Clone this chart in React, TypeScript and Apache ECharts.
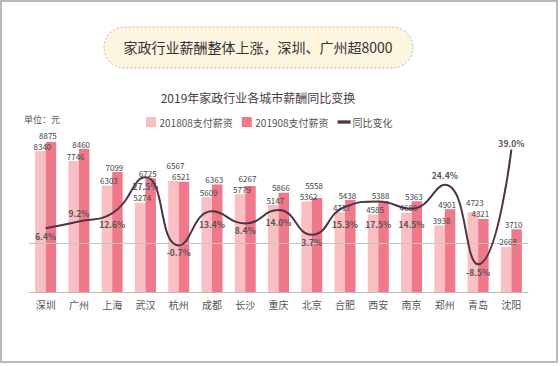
import React, { useEffect, useRef } from "react";
import * as echarts from "echarts";

const cities = ["深圳", "广州", "上海", "武汉", "杭州", "成都", "长沙", "重庆", "北京", "合肥", "西安", "南京", "郑州", "青岛", "沈阳"];
const pay2018 = [8340, 7746, 6303, 5274, 6567, 5609, 5779, 5147, 5362, 4717, 4585, 4686, 3938, 4723, 2668];
const pay2019 = [8875, 8460, 7099, 6725, 6521, 6363, 6267, 5866, 5558, 5438, 5388, 5363, 4901, 4321, 3710];
const yoy = [6.4, 9.2, 12.6, 27.5, -0.7, 13.4, 8.4, 14.0, 3.7, 15.3, 17.5, 14.5, 24.4, -8.5, 39.0];
const seriesNames = ["201808支付薪资", "201908支付薪资", "同比变化"];
const mainTitle = "家政行业薪酬整体上涨，深圳、广州超8000";
const subTitle = "2019年家政行业各城市薪酬同比变换";
const unitText = "单位：元";

// label styling (not data): which percent labels sit above the line, and their distance
const PCT_ABOVE = [1, 12, 14];
const PCT_DIST = [3, 4, 6, 4, 2, 8, 2, 8, 3, 13, 18, 11, 6, 3, 2];

const FONT = "'Noto Sans CJK SC', 'Noto Sans', sans-serif";
const LIGHT = "#f9bfc3";
const DARK = "#f0788b";
const LINE = "#4d3344";
const PX_PER_UNIT = 169 / 10000;

export default function App() {
  const ref = useRef<HTMLDivElement>(null);
  useEffect(() => {
    document.body.style.margin = "0";
    const chart = echarts.init(ref.current!, null, { renderer: "svg" });
    const extra = (mine: number, other: number) => {
      const gap = Math.abs(mine - other) * PX_PER_UNIT;
      return mine > other && gap < 11 ? 1 + (11 - gap) : 1;
    };
    const lightData = pay2018.map((v, i) => ({
      value: v,
      label: { distance: extra(v, pay2019[i]) },
    }));
    const darkData = pay2019.map((v, i) => ({
      value: v,
      label: { distance: extra(v, pay2018[i]) },
    }));
    const lineData = yoy.map((v, i) => ({
      value: v,
      label: { position: PCT_ABOVE.includes(i) ? "top" : "bottom", distance: PCT_DIST[i] },
    }));
    chart.setOption({
      animation: false,
      textStyle: { fontFamily: FONT },
      graphic: [
        {
          type: "rect",
          shape: { x: 1, y: 1, width: 556, height: 361 },
          style: { fill: "none", stroke: "#b8b8b8", lineWidth: 2 },
        },
        {
          type: "rect",
          shape: { x: 104, y: 27, width: 309, height: 41, r: 20.5 },
          style: { fill: "#fcf5df", stroke: "#bdb6a8", lineWidth: 1, lineDash: [2, 2] },
        },
        {
          type: "text",
          x: 258,
          y: 47,
          style: {
            text: mainTitle,
            fill: "#333",
            font: `14px ${FONT}`,
            textAlign: "center",
            textVerticalAlign: "middle",
          },
        },
        {
          type: "text",
          x: 258,
          y: 97,
          style: {
            text: subTitle,
            fill: "#4a3a46",
            font: `12px ${FONT}`,
            textAlign: "center",
            textVerticalAlign: "middle",
          },
        },
        {
          type: "text",
          x: 24,
          y: 119,
          style: {
            text: unitText,
            fill: "#555",
            font: `9px ${FONT}`,
            textAlign: "left",
            textVerticalAlign: "middle",
          },
        },
      ],
      legend: {
        top: 112,
        left: 141,
        itemWidth: 13,
        itemHeight: 10,
        itemGap: 9,
        textStyle: { fontSize: 10, color: "#555", fontFamily: FONT, padding: [0, 0, 0, -3] },
        data: [
          { name: seriesNames[0], icon: "path://M0,0h10v10h-10z" },
          { name: seriesNames[1], icon: "path://M0,0h10v10h-10z" },
          { name: seriesNames[2], icon: "path://M0,0h16v4h-16z" },
        ],
      },
      grid: { left: 29, right: 32, top: 123, bottom: 74 },
      xAxis: {
        type: "category",
        data: cities,
        axisLine: { lineStyle: { color: "#bbb", width: 1 } },
        axisTick: { show: false },
        axisLabel: { color: "#555", fontSize: 10, margin: 7, fontFamily: FONT },
      },
      yAxis: [
        { type: "value", min: 0, max: 10000, show: false, splitLine: { show: false } },
        { type: "value", min: -20, max: 50, show: false, splitLine: { show: false } },
      ],
      series: [
        {
          name: seriesNames[0],
          type: "bar",
          data: lightData,
          barWidth: 10.5,
          barGap: "0%",
          itemStyle: { color: LIGHT },
          label: {
            show: true,
            position: "top",
            offset: [2, 0],
            fontSize: 8,
            color: "#444",
            fontFamily: FONT,
          },
        },
        {
          name: seriesNames[1],
          type: "bar",
          data: darkData,
          barWidth: 10.5,
          itemStyle: { color: DARK },
          label: {
            show: true,
            position: "top",
            offset: [-3, 0],
            fontSize: 8,
            color: "#444",
            fontFamily: FONT,
          },
        },
        {
          name: seriesNames[2],
          type: "line",
          yAxisIndex: 1,
          data: lineData,
          smooth: 0.5,
          symbol: "circle",
          symbolSize: 0,
          showSymbol: true,
          z: 5,
          lineStyle: { color: LINE, width: 2 },
          itemStyle: { color: LINE },
          label: {
            show: true,
            fontSize: 8.5,
            fontWeight: "bold",
            color: "#555",
            fontFamily: FONT,
            formatter: (p: any) => `${Number(p.value).toFixed(1)}%`,
          },
          markLine: {
            silent: true,
            symbol: "none",
            label: { show: false },
            lineStyle: { color: "#c4c4c4", width: 1, type: "solid" },
            data: [{ yAxis: 0 }],
          },
        },
      ],
    });
    return () => chart.dispose();
  }, []);
  return <div ref={ref} style={{ position: "absolute", left: 0, top: 0, width: 560, height: 366 }} />;
}
